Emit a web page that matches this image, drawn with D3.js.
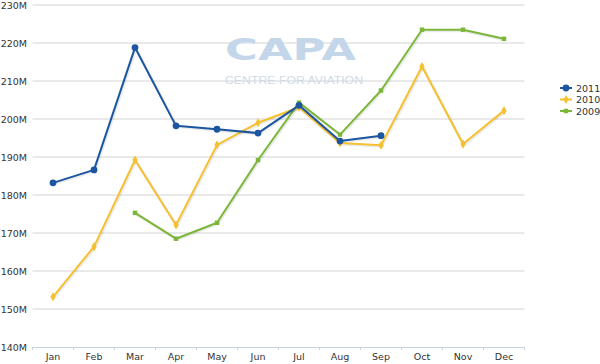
<!DOCTYPE html>
<html>
<head>
<meta charset="utf-8">
<script src="https://cdn.jsdelivr.net/npm/d3@7"></script>
<style>
  body { margin: 0; background: #fff; }
  text { font-family: "DejaVu Sans", Verdana, sans-serif; }
</style>
</head>
<body>
<div id="container"></div>
<script>
// data (millions)
const months = ["Jan","Feb","Mar","Apr","May","Jun","Jul","Aug","Sep","Oct","Nov","Dec"];
const yTicks = [140,150,160,170,180,190,200,210,220,230];
const s2011 = [183.2,186.6,218.8,198.2,197.3,196.3,203.6,194.2,195.6,null,null,null];
const s2010 = [153.2,166.4,189.2,172.1,193.2,199.0,203.1,193.7,193.1,213.8,193.4,202.2];
const s2009 = [null,null,175.3,168.5,172.7,189.2,204.3,195.9,207.5,223.5,223.5,221.1];

const width = 600, height = 364;
const margin = {top: 5, right: 75, bottom: 17, left: 32.5};

const svg = d3.select("#container").append("svg")
  .attr("width", width).attr("height", height);

const x = d3.scaleBand().domain(months)
  .range([margin.left, margin.left + 12 * 41]);
const y = d3.scaleLinear().domain([140, 230])
  .range([height - margin.bottom, margin.top]);

// gridlines
svg.append("g").selectAll("line").data(yTicks.slice(1)).enter().append("line")
  .attr("x1", x.range()[0]).attr("x2", x.range()[1])
  .attr("y1", d => y(d)).attr("y2", d => y(d))
  .attr("stroke", "#d4d4d4").attr("stroke-width", 1);

// watermark
svg.append("text").attr("x", 225).attr("y", 60)
  .attr("textLength", 131).attr("lengthAdjust", "spacingAndGlyphs")
  .style("font-family", "DejaVu Sans, sans-serif")
  .style("font-size", "31px").style("font-weight", "bold")
  .attr("fill", "#c4d6e9").text("CAPA");
svg.append("text").attr("x", 225).attr("y", 83.5)
  .attr("textLength", 138).attr("lengthAdjust", "spacingAndGlyphs")
  .style("font-family", "Liberation Sans, Arial, sans-serif")
  .style("font-size", "11.5px")
  .attr("fill", "#cfdbe8").text("CENTRE FOR AVIATION");

// y axis labels
svg.append("g").selectAll("text").data(yTicks).enter().append("text")
  .attr("x", 27).attr("y", d => y(d) + 3.5)
  .attr("text-anchor", "end")
  .style("font-size", "9.5px").attr("fill", "#333")
  .text(d => d + "M");

// x axis
const xAxis = d3.axisBottom(x).tickSize(0).tickPadding(6);
const gx = svg.append("g")
  .attr("transform", "translate(0," + y(140) + ")")
  .call(xAxis);
gx.select(".domain").attr("stroke", "#c6d4e2");
gx.selectAll("text").style("font-size", "9.5px").attr("fill", "#333")
  .style("font-family", "DejaVu Sans, Verdana, sans-serif");
gx.selectAll(".sep").data(d3.range(13)).enter().append("line")
  .attr("x1", i => x.range()[0] + i * x.bandwidth())
  .attr("x2", i => x.range()[0] + i * x.bandwidth())
  .attr("y1", 0).attr("y2", 3).attr("stroke", "#c6d4e2");

const series = [
  {name: "2009", values: s2009, color: "#7db73a", shape: d3.symbolSquare, size: 20},
  {name: "2010", values: s2010, color: "#f5c130", shape: d3.symbolDiamond, size: 24},
  {name: "2011", values: s2011, color: "#1c56a0", shape: d3.symbolCircle, size: 36}
];

const line = d3.line()
  .defined(d => d != null)
  .x((d, i) => x(months[i]) + x.bandwidth() / 2)
  .y(d => y(d));

series.forEach(s => {
  // soft shadow
  svg.append("path").datum(s.values)
    .attr("d", line).attr("fill", "none")
    .attr("stroke", "rgba(0,0,0,0.08)").attr("stroke-width", 3)
    .attr("transform", "translate(1,1)");
  svg.append("path").datum(s.values)
    .attr("d", line).attr("fill", "none")
    .attr("stroke", s.color).attr("stroke-width", 2)
    .attr("stroke-linejoin", "round");
  svg.append("g").selectAll("path")
    .data(s.values.map((v, i) => ({v, i})).filter(d => d.v != null))
    .enter().append("path")
    .attr("d", d3.symbol().type(s.shape).size(s.size))
    .attr("transform", d => "translate(" + (x(months[d.i]) + x.bandwidth() / 2) + "," + y(d.v) + ")")
    .attr("fill", s.color);
});

// legend
const legend = svg.append("g").attr("transform", "translate(560,88)");
const legendOrder = [series[2], series[1], series[0]];
legendOrder.forEach((s, i) => {
  const g = legend.append("g").attr("transform", "translate(0," + i * 11.5 + ")");
  g.append("line").attr("x1", 0).attr("x2", 12).attr("stroke", s.color).attr("stroke-width", 2);
  g.append("path").attr("d", d3.symbol().type(s.shape).size(s.size))
    .attr("transform", "translate(6,0)").attr("fill", s.color);
  g.append("text").attr("x", 16).attr("y", 3.5)
    .style("font-size", "9.5px").attr("fill", "#333").text(s.name);
});
</script>
</body>
</html>
